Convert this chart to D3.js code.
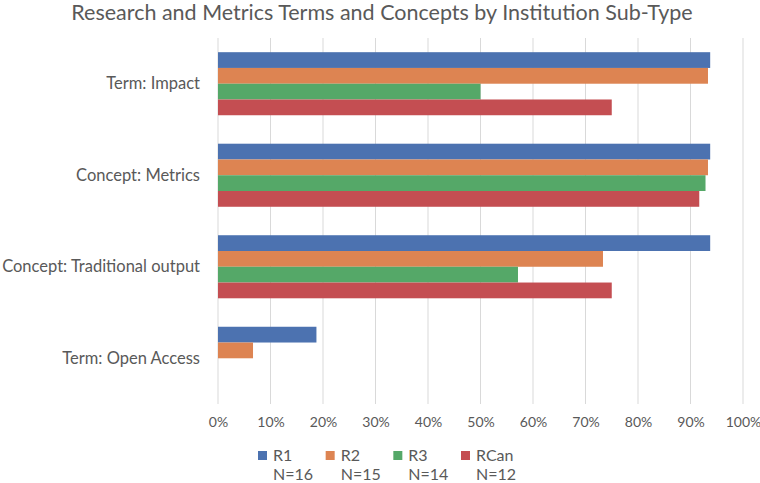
<!DOCTYPE html>
<html>
<head>
<meta charset="utf-8">
<script src="https://cdn.jsdelivr.net/npm/d3@7"></script>
<style>
	body { margin: 0; background: #fff; }
	svg { display: block; }
	text { font-family: Lato, "Open Sans", sans-serif; fill: #595959; }
</style>
</head>
<body>
<div id="chart"></div>
<script>
// chart data
///
const categories = ["Term: Impact", "Concept: Metrics", "Concept: Traditional output", "Term: Open Access"];
const seriesNames = ["R1", "R2", "R3", "RCan"];
const seriesN = ["N=16", "N=15", "N=14", "N=12"];
const r1 = [0.9375, 0.9375, 0.9375, 0.1875];
const r2 = [0.9333, 0.9333, 0.7333, 0.0667];
const r3 = [0.50, 0.9286, 0.5714, 0];
const rcan = [0.75, 0.9167, 0.75, 0];
const xTicks = [0, 0.1, 0.2, 0.3, 0.4, 0.5, 0.6, 0.7, 0.8, 0.9, 1];
const colors = ["#4C72B0", "#DD8452", "#55A868", "#C44E52"];

const values = [r1, r2, r3, rcan];
const w = 760, h = 483;

let svg = d3.select("#chart").append('svg')
	.attr("width", w)
	.attr("height", h);

const x = d3.scaleLinear().domain([0, 1]).range([218, 743]);
const y = d3.scaleBand().domain(categories).range([38, 404]).paddingInner(0.311).paddingOuter(0.155);
const ySub = d3.scaleBand().domain(seriesNames).range([0, y.bandwidth()]);
const color = d3.scaleOrdinal().domain(seriesNames).range(colors);

// title
svg.append('text')
	.attr('x', 382)
	.attr('y', 20)
	.attr('text-anchor', 'middle')
	.style('font-size', '21.5px')
	.text("Research and Metrics Terms and Concepts by Institution Sub-Type");

// gridlines
svg.append('g').selectAll('line')
	.data(xTicks)
	.enter()
	.append('line')
	.attr('x1', d => x(d)).attr('x2', d => x(d))
	.attr('y1', 38).attr('y2', 404)
	.attr('stroke', '#d9d9d9')
	.attr('stroke-width', 1);

// x axis labels
let xAxis = svg.append('g')
	.attr('transform', 'translate(0,' + 404 + ')')
	.call(d3.axisBottom(x).tickValues(xTicks).tickFormat(d3.format('.0%')).tickSize(0).tickPadding(13));
xAxis.select('.domain').remove();
xAxis.selectAll('text').style('font-size', '14px').style('fill', '#595959').style('font-family', 'Lato, sans-serif');

// y axis labels
let yAxis = svg.append('g')
	.attr('transform', 'translate(' + 200 + ',0)')
	.call(d3.axisLeft(y).tickSize(0).tickPadding(0));
yAxis.select('.domain').remove();
yAxis.selectAll('text').style('font-size', '16.5px').style('fill', '#595959').style('font-family', 'Lato, sans-serif');

// bars
let groups = svg.append('g').selectAll('g')
	.data(categories)
	.enter()
	.append('g')
	.attr('transform', d => 'translate(0,' + y(d) + ')');

groups.selectAll('rect')
	.data((c, i) => seriesNames.map((s, j) => ({ s: s, v: values[j][i] })))
	.enter()
	.append('rect')
	.attr('x', x(0))
	.attr('y', d => ySub(d.s))
	.attr('width', d => x(d.v) - x(0))
	.attr('height', ySub.bandwidth())
	.attr('fill', d => color(d.s));

// legend
const legX = d3.scalePoint().domain(seriesNames).range([258, 461]);
let legend = svg.append('g').selectAll('g')
	.data(seriesNames)
	.enter()
	.append('g')
	.attr('transform', d => 'translate(' + legX(d) + ',0)');

legend.append('rect')
	.attr('x', 0).attr('y', 451)
	.attr('width', 9).attr('height', 9)
	.attr('fill', d => color(d));

legend.append('text')
	.attr('x', 15).attr('y', 461)
	.style('font-size', '16px')
	.text(d => d);

legend.append('text')
	.attr('x', 15).attr('y', 480)
	.style('font-size', '16px')
	.text((d, i) => seriesN[i]);
</script>
</body>
</html>
